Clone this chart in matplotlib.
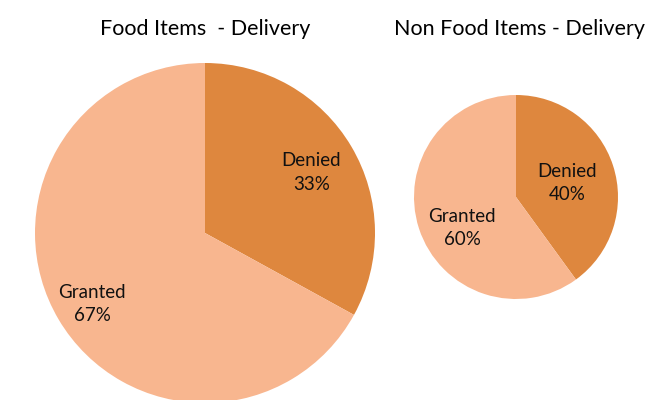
import numpy as np
import matplotlib.pyplot as plt

plt.rcParams['font.family'] = ['Lato', 'DejaVu Sans']

categories = ['Denied', 'Granted']
food_values = [33, 67]
nonfood_values = [40, 60]
titles = ['Food Items  - Delivery', 'Non Food Items - Delivery']
colors = ['#DE873E', '#F8B68F']

W, H = 659, 400
fig = plt.figure(figsize=(W / 100, H / 100), dpi=100)


def pie_axes(cx, cy, r):
    # pixel centre/radius -> figure fraction axes
    return fig.add_axes([(cx - r) / W, (H - cy - r) / H, 2 * r / W, 2 * r / H])


ax1 = pie_axes(205, 233, 170)
ax2 = pie_axes(516, 197, 102)

# label placement: (distance, angle nudge in degrees) per wedge
placements = [
    (ax1, food_values, [(0.72, -1), (0.785, 1.5)]),
    (ax2, nonfood_values, [(0.52, -3), (0.61, 12)]),
]

for ax, vals, pl in placements:
    labels = [f'{c}\n{v}%' for c, v in zip(categories, vals)]
    wedges, texts = ax.pie(vals, labels=labels, colors=colors, startangle=90,
                           counterclock=False,
                           textprops=dict(fontsize=13.5, ha='center', va='center',
                                          linespacing=1.45, color='#111111'))
    for w, t, (d, da) in zip(wedges, texts, pl):
        a = np.deg2rad((w.theta1 + w.theta2) / 2 + da)
        t.set_position((d * np.cos(a), d * np.sin(a)))
        t.set_ha('center')
    ax.set_xlim(-1, 1)
    ax.set_ylim(-1, 1)
    ax.set_aspect('equal')

fig.text(205 / W, 1 - 29 / H, titles[0], ha='center', va='center', fontsize=15.5)
fig.text(520 / W, 1 - 29 / H, titles[1], ha='center', va='center', fontsize=15.5)

fig.savefig('out.png', dpi=100)
